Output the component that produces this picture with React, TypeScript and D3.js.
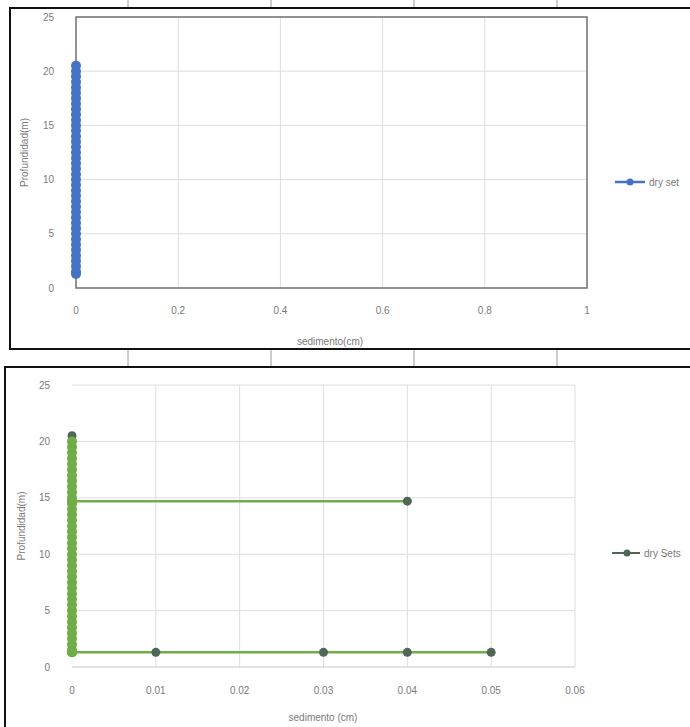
import React from "react";
import * as d3 from "d3";

// Upper profile: sediment (cm) at each depth (m)
const topDepths = [20.5, 20.0, 19.5, 19.0, 18.5, 18.0, 17.5, 17.0, 16.5, 16.0, 15.5, 15.0, 14.5, 14.0, 13.5, 13.0, 12.5, 12.0, 11.5, 11.0, 10.5, 10.0, 9.5, 9.0, 8.5, 8.0, 7.5, 7.0, 6.5, 6.0, 5.5, 5.0, 4.5, 4.0, 3.5, 3.0, 2.5, 2.0, 1.5, 1.3];
const topSediment = [0, 0, 0, 0, 0, 0, 0, 0, 0, 0, 0, 0, 0, 0, 0, 0, 0, 0, 0, 0, 0, 0, 0, 0, 0, 0, 0, 0, 0, 0, 0, 0, 0, 0, 0, 0, 0, 0, 0, 0];
const topXTicks = [0, 0.2, 0.4, 0.6, 0.8, 1];
const topXLabels = ["0", "0.2", "0.4", "0.6", "0.8", "1"];

// Lower profile
const botDepths = [20.5, 20.0, 19.5, 19.0, 18.5, 18.0, 17.5, 17.0, 16.5, 16.0, 15.5, 15.0, 14.7, 14.7, 14.7, 14.5, 14.0, 13.5, 13.0, 12.5, 12.0, 11.5, 11.0, 10.5, 10.0, 9.5, 9.0, 8.5, 8.0, 7.5, 7.0, 6.5, 6.0, 5.5, 5.0, 4.5, 4.0, 3.5, 3.0, 2.5, 2.0, 1.5, 1.3, 1.3, 1.3, 1.3, 1.3, 1.3, 1.3];
const botSediment = [0, 0, 0, 0, 0, 0, 0, 0, 0, 0, 0, 0, 0, 0.04, 0, 0, 0, 0, 0, 0, 0, 0, 0, 0, 0, 0, 0, 0, 0, 0, 0, 0, 0, 0, 0, 0, 0, 0, 0, 0, 0, 0, 0, 0.01, 0, 0.03, 0.04, 0.05, 0];
const botXTicks = [0, 0.01, 0.02, 0.03, 0.04, 0.05, 0.06];
const botXLabels = ["0", "0.01", "0.02", "0.03", "0.04", "0.05", "0.06"];

const yTicks = [0, 5, 10, 15, 20, 25];
const yLabels = ["0", "5", "10", "15", "20", "25"];

const topSeriesName = "dry set";
const botSeriesName = "dry Sets";
const xTitleTop = "sedimento(cm)";
const xTitleBot = "sedimento (cm)";
const yTitle = "Profundidad(m)";

const FONT = "'Liberation Sans', Arial, sans-serif";
const TEXT = "#7a7a7a";
const GRID = "#dedede";
const BLUE = "#4472C4";
const GREEN = "#70AD47";
const DARK = "#4f6658";

export default function App() {
  // upper chart scales
  const xT = d3.scaleLinear().domain([0, 1]).range([76, 587]);
  const yT = d3.scaleLinear().domain([0, 25]).range([288, 17]);
  // lower chart scales
  const xB = d3.scaleLinear().domain([0, 0.06]).range([72, 575]);
  const yB = d3.scaleLinear().domain([0, 25]).range([667, 385]);

  const topPts = topDepths.map((d, i) => ({ x: topSediment[i], y: d }));
  const botPts = botDepths.map((d, i) => ({ x: botSediment[i], y: d }));

  const lineT = d3.line<{ x: number; y: number }>().x((p) => xT(p.x)).y((p) => yT(p.y));
  const lineB = d3.line<{ x: number; y: number }>().x((p) => xB(p.x)).y((p) => yB(p.y));

  const cellLines = [128, 271, 414, 557];

  return (
    <svg width={690} height={727} style={{ position: "absolute", left: 0, top: 0, background: "#fff" }} fontFamily={FONT}>
      {/* table cell dividers between the panels */}
      {cellLines.map((x) => (
        <g key={"c" + x}>
          <line x1={x} x2={x} y1={0} y2={8} stroke="#9a9a9a" strokeWidth={1} />
          <line x1={x} x2={x} y1={349} y2={367} stroke="#9a9a9a" strokeWidth={1} />
        </g>
      ))}

      {/* ===== upper chart ===== */}
      <rect x={10} y={8} width={700} height={341} fill="#fff" stroke="#111" strokeWidth={2} />
      {topXTicks.slice(1, -1).map((t) => (
        <line key={"tgx" + t} x1={xT(t)} x2={xT(t)} y1={yT(25)} y2={yT(0)} stroke={GRID} />
      ))}
      {yTicks.slice(1, -1).map((t) => (
        <line key={"tgy" + t} x1={xT(0)} x2={xT(1)} y1={yT(t)} y2={yT(t)} stroke={GRID} />
      ))}
      <rect x={xT(0)} y={yT(25)} width={xT(1) - xT(0)} height={yT(0) - yT(25)} fill="none" stroke="#6f6f6f" strokeWidth={1.5} />
      {yTicks.map((t, i) => (
        <text key={"tyl" + t} x={54} y={yT(t) + 3.5} textAnchor="end" fontSize={10} fill={TEXT}>{yLabels[i]}</text>
      ))}
      {topXTicks.map((t, i) => (
        <text key={"txl" + t} x={xT(t)} y={314} textAnchor="middle" fontSize={10} fill={TEXT}>{topXLabels[i]}</text>
      ))}
      <text x={330} y={345} textAnchor="middle" fontSize={10} fill={TEXT}>{xTitleTop}</text>
      <text transform={`translate(28,${yT(12.5)}) rotate(-90)`} textAnchor="middle" fontSize={10} fill={TEXT}>{yTitle}</text>
      <path d={lineT(topPts) ?? ""} fill="none" stroke={BLUE} strokeWidth={2.5} />
      {topPts.map((p, i) => (
        <circle key={"tp" + i} cx={xT(p.x)} cy={yT(p.y)} r={5} fill={BLUE} />
      ))}
      {/* legend */}
      <line x1={615} x2={645} y1={182} y2={182} stroke={BLUE} strokeWidth={2.5} />
      <circle cx={630} cy={182} r={3.5} fill={BLUE} />
      <text x={649} y={185.5} fontSize={10} fill={TEXT}>{topSeriesName}</text>

      {/* ===== lower chart ===== */}
      <rect x={5} y={367} width={710} height={380} fill="#fff" stroke="#111" strokeWidth={2} />
      {botXTicks.slice(1).map((t) => (
        <line key={"bgx" + t} x1={xB(t)} x2={xB(t)} y1={yB(25)} y2={yB(0)} stroke={GRID} />
      ))}
      {yTicks.slice(1).map((t) => (
        <line key={"bgy" + t} x1={xB(0)} x2={xB(0.06)} y1={yB(t)} y2={yB(t)} stroke={GRID} />
      ))}
      <line x1={xB(0)} x2={xB(0.06)} y1={yB(0)} y2={yB(0)} stroke="#c8c8c8" />
      {yTicks.map((t, i) => (
        <text key={"byl" + t} x={50} y={yB(t) + 3.5} textAnchor="end" fontSize={10} fill={TEXT}>{yLabels[i]}</text>
      ))}
      {botXTicks.map((t, i) => (
        <text key={"bxl" + t} x={xB(t)} y={694} textAnchor="middle" fontSize={10} fill={TEXT}>{botXLabels[i]}</text>
      ))}
      <text x={323} y={721} textAnchor="middle" fontSize={10} fill={TEXT}>{xTitleBot}</text>
      <text transform={`translate(25,${yB(12.5)}) rotate(-90)`} textAnchor="middle" fontSize={10} fill={TEXT}>{yTitle}</text>
      <path d={lineB(botPts) ?? ""} fill="none" stroke={GREEN} strokeWidth={2.5} />
      {botPts.map((p, i) => (
        <circle key={"bp" + i} cx={xB(p.x)} cy={yB(p.y)} r={i === 0 || p.x > 0 ? 4.5 : 5} fill={i === 0 || p.x > 0 ? DARK : GREEN} />
      ))}
      {/* legend */}
      <line x1={612} x2={640} y1={553} y2={553} stroke={DARK} strokeWidth={2} />
      <circle cx={627} cy={553} r={3.5} fill={DARK} />
      <text x={644} y={556.5} fontSize={10} fill={TEXT}>{botSeriesName}</text>
    </svg>
  );
}
